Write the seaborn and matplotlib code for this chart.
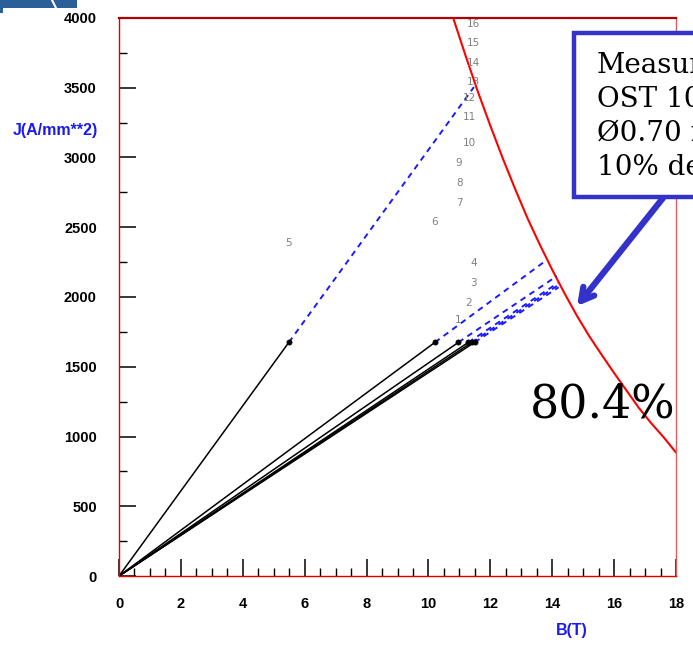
import numpy as np
import pandas as pd
import matplotlib
matplotlib.use("Agg")
import matplotlib.pyplot as plt
import seaborn as sns
from matplotlib.patches import Rectangle
from matplotlib.lines import Line2D

# ---- data ----
curve_B = [10.80, 11.20, 11.60, 12.00, 12.40, 12.80, 13.20, 13.60, 14.00, 14.40,
           14.80, 15.20, 15.60, 16.00, 16.40, 16.80, 17.20, 17.60, 18.00]
curve_J = [4000, 3730, 3470, 3228, 2995, 2775, 2565, 2375, 2195, 2025,
           1865, 1718, 1585, 1455, 1330, 1205, 1095, 995, 885]

point_B = [5.49, 10.21, 10.97, 11.29, 11.40, 11.49]
point_J = [1675, 1675, 1675, 1675, 1675, 1675]
end_B = [11.47, 13.82, 14.15, 14.18, 14.20, 14.21]
end_J = [3505, 2265, 2150, 2100, 2086, 2070]

label_text = [str(i) for i in range(1, 17)]
label_B = [10.96, 11.31, 11.45, 11.45, 5.47, 10.21, 10.99, 10.99, 10.99,
           11.31, 11.31, 11.34, 11.47, 11.47, 11.47, 11.47]
label_J = [1835, 1957, 2099, 2242, 2385, 2540, 2674, 2817, 2961,
           3104, 3292, 3427, 3543, 3677, 3819, 3957]

x_ticks = [0, 2, 4, 6, 8, 10, 12, 14, 16, 18]
y_ticks = [0, 500, 1000, 1500, 2000, 2500, 3000, 3500, 4000]
box_lines = ["Measured", "OST 10", "\u00d80.70 mm", "10% deformed"]
pct_text = "80.4%"

# ---- figure ----
sns.set_style("ticks")
plt.rcParams['font.family'] = ['Liberation Sans', 'DejaVu Sans']
W, H = 693, 648
fig = plt.figure(figsize=(W / 100, H / 100), dpi=100)
ax = fig.add_axes([119 / W, (H - 576) / H, 557 / W, 558 / H])

# critical curve
sns.lineplot(x=curve_B, y=curve_J, sort=False, color="#ff0000", lw=1.5, ax=ax)

# load lines
for b, j, eb, ej in zip(point_B, point_J, end_B, end_J):
    sns.lineplot(x=[0, b], y=[0, j], sort=False, color="black", lw=1.1, ax=ax)
    sns.lineplot(x=[b, eb], y=[j, ej], sort=False, color="#1a1aff", lw=1.4,
                 ax=ax, linestyle=(0, (3, 2.5)))
sns.scatterplot(x=point_B, y=point_J, color="black", s=14, ax=ax, zorder=5,
                edgecolor="black", linewidth=0.5)

ax.set_xlim(0, 18)
ax.set_ylim(0, 4000)

# small number labels
for t, b, j in zip(label_text, label_B, label_J):
    ax.text(b, j, t, ha="center", va="center", fontsize=7.5, color="#808080",
            family=['Liberation Sans Narrow', 'DejaVu Sans'])

# ticks
ax.set_xticks(x_ticks)
ax.set_yticks(y_ticks)
ax.set_xticks(np.arange(0, 18.01, 0.5), minor=True)
ax.set_yticks(np.arange(0, 4000.1, 250), minor=True)
ax.tick_params(which="major", direction="in", length=12, width=1.1, color="black",
               left=True, bottom=True, top=False, right=False, labelsize=10.5,
               labelcolor="black")
ax.tick_params(which="minor", direction="in", length=5.8, width=1.0, color="black",
               left=True, bottom=True, top=False, right=False)
ax.tick_params(axis="y", which="major", pad=16)
ax.tick_params(axis="x", which="major", pad=15)
for lab in ax.get_xticklabels() + ax.get_yticklabels():
    lab.set_fontweight("bold")
ax.set_xlabel("")
ax.set_ylabel("")

for s in ["left", "right", "bottom", "top"]:
    ax.spines[s].set_visible(True)
    ax.spines[s].set_color("#e00000")
    ax.spines[s].set_linewidth(1.0)
ax.spines["top"].set_color("#b00000")
ax.spines["top"].set_linewidth(1.6)
ax.spines["right"].set_color("#d86060")

# axis labels (blue)
fig.text(98 / W, 1 - 130 / H, "J(A/mm**2)", ha="right", va="center", color="#1a1aee",
         fontsize=11.5, fontweight="bold")
fig.text(572 / W, 1 - 630 / H, "B(T)", ha="center", va="center", color="#1a1aee",
         fontsize=11.5, fontweight="bold")

# percentage text
fig.text(530 / W, 1 - 418 / H, pct_text, ha="left", va="baseline", fontsize=33,
         family="DejaVu Serif", color="black")

# callout box
box = Rectangle((574 / W, 1 - 197 / H), 200 / W, 164 / H, transform=fig.transFigure,
                facecolor="white", edgecolor="#3333cc", lw=3.2, zorder=10)
fig.patches.append(box)
for i, line in enumerate(box_lines):
    fig.text(597 / W, 1 - (73 + 34 * i) / H, line, ha="left", va="baseline",
             fontsize=20, family="DejaVu Serif", color="black", zorder=11)

# arrow
ax.annotate("", xy=(577 / W, 1 - 306 / H), xytext=(663 / W, 1 - 198 / H),
            xycoords="figure fraction", textcoords="figure fraction",
            arrowprops=dict(arrowstyle="->,head_length=0.9,head_width=0.5",
                            color="#3333cc", lw=4.5, shrinkA=0, shrinkB=0),
            zorder=12, annotation_clip=False)

# logo fragment top-left
fig.patches.append(Rectangle((0, 1 - 8 / H), 77 / W, 8 / H, transform=fig.transFigure,
                             facecolor="#2b5f97", edgecolor="none"))
fig.patches.append(Rectangle((0, 1 - 13 / H), 3 / W, 13 / H, transform=fig.transFigure,
                             facecolor="#2b5f97", edgecolor="none"))
fig.lines.append(Line2D([52 / W, 56 / W], [1.0, 1 - 8 / H], transform=fig.transFigure,
                        color="white", lw=1.5))

fig.savefig("out.png", dpi=100)
